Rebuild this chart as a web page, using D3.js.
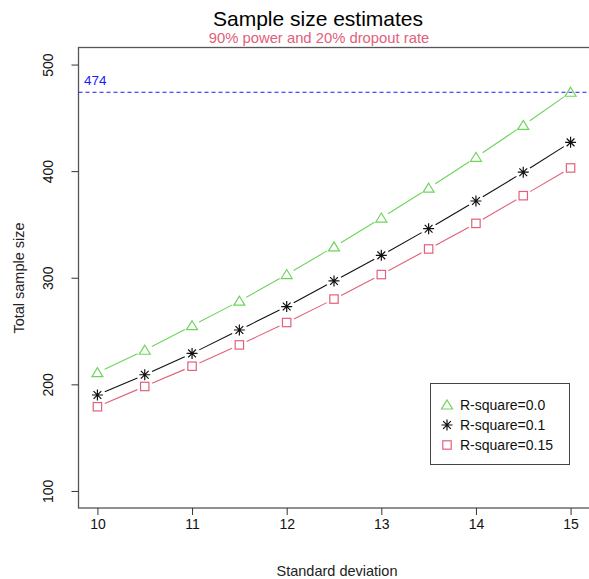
<!DOCTYPE html>
<html><head><meta charset="utf-8">
<script src="https://cdn.jsdelivr.net/npm/d3@7"></script>
<style>body{margin:0;background:#fff}svg{display:block}text{font-family:"Liberation Sans",Arial,sans-serif}</style>
</head><body>
<svg id="c" width="589" height="579"></svg>
<script>
const sdValues = [10,10.5,11,11.5,12,12.5,13,13.5,14,14.5,15];
const r2_00 = [211,232,255,278,303,329,356,384,413,443,474];
const r2_01 = [190,209,229,251,273,297,321,346,372,399,427];
const r2_015 = [179,198,217,237,258,280,303,327,351,377,403];
const seriesNames = ["R-square=0.0","R-square=0.1","R-square=0.15"];
const xTicks = [10,11,12,13,14,15];
const yTicks = [100,200,300,400,500];
const refValue = 474;

const svg = d3.select("#c");
const x = d3.scaleLinear().domain([9.8,15.2]).range([78.5,589.5]);
const y = d3.scaleLinear().domain([84,516]).range([508,47.5]);

const green="#6dd45c", pink="#e2607a", black="#111";

// title
svg.append("text").attr("x",318).attr("y",26).attr("text-anchor","middle").attr("font-size",21).attr("fill","#000").text("Sample size estimates");
svg.append("text").attr("x",319).attr("y",42.5).attr("text-anchor","middle").attr("font-size",14.8).attr("fill",pink).text("90% power and 20% dropout rate");

// box
svg.append("rect").attr("x",78.5).attr("y",47.5).attr("width",600).attr("height",460.5).attr("fill","none").attr("stroke","#555").attr("stroke-width",1.3);

// axes
const xAxis = d3.axisBottom(x).tickValues(xTicks).tickSize(7).tickPadding(4).tickFormat(d3.format("d"));
const gx = svg.append("g").attr("transform","translate(0,508)").call(xAxis);
gx.select(".domain").remove();
gx.selectAll("line").attr("stroke","#333");
gx.selectAll("text").attr("font-size",14).attr("fill","#111").attr("font-family","Liberation Sans, Arial, sans-serif");

const yAxis = d3.axisLeft(y).tickValues(yTicks).tickSize(7).tickFormat(d3.format("d"));
const gy = svg.append("g").attr("transform","translate(78.5,0)").call(yAxis);
gy.select(".domain").remove();
gy.selectAll("line").attr("stroke","#333");
gy.selectAll("text").attr("font-size",14).attr("fill","#111").attr("font-family","Liberation Sans, Arial, sans-serif")
  .attr("x",null).attr("dy",null).attr("text-anchor","middle")
  .attr("transform","translate(-26,0) rotate(-90)");

svg.append("text").attr("x",337).attr("y",576).attr("text-anchor","middle").attr("font-size",14.5).attr("fill","#222").text("Standard deviation");
svg.append("text").attr("transform","translate(24,278) rotate(-90)").attr("text-anchor","middle").attr("font-size",14.5).attr("fill","#222").text("Total sample size");

// reference line
svg.append("line").attr("x1",78.5).attr("x2",589).attr("y1",y(refValue)).attr("y2",y(refValue))
  .attr("stroke","#1a1aff").attr("stroke-width",1).attr("stroke-dasharray","4,3");
svg.append("text").attr("x",84).attr("y",y(refValue)-7).attr("font-size",13.5).attr("fill","#1a1aff").text(refValue);

// series
const series = [
  {vals:r2_00,color:green,shape:"tri"},
  {vals:r2_01,color:black,shape:"ast"},
  {vals:r2_015,color:pink,shape:"sq"}
];
function drawMarker(g,shape,cx,cy,color){
  if(shape==="tri"){
    const s=5;
    g.append("path").attr("d",`M${cx},${cy-s}L${cx+s*1.1},${cy+s*0.8}L${cx-s*1.1},${cy+s*0.8}Z`)
      .attr("fill","none").attr("stroke",color).attr("stroke-width",1.2);
  } else if(shape==="sq"){
    const s=4.2;
    g.append("rect").attr("x",cx-s).attr("y",cy-s).attr("width",2*s).attr("height",2*s)
      .attr("fill","none").attr("stroke",color).attr("stroke-width",1.2);
  } else {
    const s=5.5;
    let d="";
    for(let k=0;k<4;k++){const a=k*Math.PI/4;d+=`M${cx-s*Math.cos(a)},${cy-s*Math.sin(a)}L${cx+s*Math.cos(a)},${cy+s*Math.sin(a)}`;}
    g.append("path").attr("d",d).attr("stroke",color).attr("stroke-width",1.2).attr("fill","none");
  }
}
series.forEach(s=>{
  const g=svg.append("g");
  const pts=sdValues.map((v,i)=>[x(v),y(s.vals[i])]);
  for(let i=0;i<pts.length-1;i++){
    const [x1,y1]=pts[i],[x2,y2]=pts[i+1];
    const dx=x2-x1,dy=y2-y1,L=Math.hypot(dx,dy),gap=8;
    g.append("line").attr("x1",x1+dx/L*gap).attr("y1",y1+dy/L*gap).attr("x2",x2-dx/L*gap).attr("y2",y2-dy/L*gap)
      .attr("stroke",s.color).attr("stroke-width",1.1);
  }
  pts.forEach(p=>drawMarker(g,s.shape,p[0],p[1],s.color));
});

// legend
const lg=svg.append("g");
lg.append("rect").attr("x",430.5).attr("y",383.5).attr("width",139).attr("height",81).attr("fill","#fff").attr("stroke","#444").attr("stroke-width",1);
seriesNames.forEach((n,i)=>{
  const cy=405+i*20;
  drawMarker(lg,series[i].shape,447,cy,series[i].color);
  lg.append("text").attr("x",460).attr("y",cy+5).attr("font-size",14).attr("fill","#111").text(n);
});
</script>
</body></html>
